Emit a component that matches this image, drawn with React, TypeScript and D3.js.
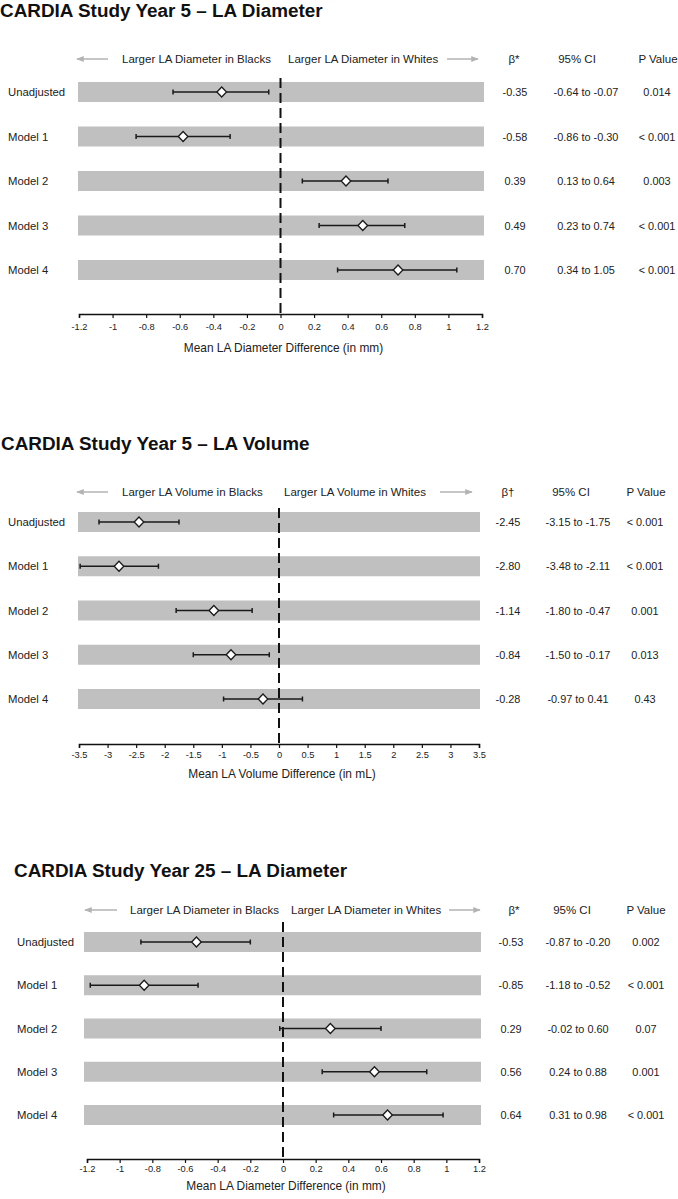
// CARDIA forest plots - three stacked panels
import React, { useEffect, useRef } from 'react';
import * as d3 from 'd3';

const FONT = '"Liberation Sans", Arial, Helvetica, sans-serif';

const models = ['Unadjusted', 'Model 1', 'Model 2', 'Model 3', 'Model 4'];

// Year 5 LA diameter
const diam5Beta = [-0.35, -0.58, 0.39, 0.49, 0.70];
const diam5Lo = [-0.64, -0.86, 0.13, 0.23, 0.34];
const diam5Hi = [-0.07, -0.30, 0.64, 0.74, 1.05];
const diam5P = ['0.014', '< 0.001', '0.003', '< 0.001', '< 0.001'];

// Year 5 LA volume
const vol5Beta = [-2.45, -2.80, -1.14, -0.84, -0.28];
const vol5Lo = [-3.15, -3.48, -1.80, -1.50, -0.97];
const vol5Hi = [-1.75, -2.11, -0.47, -0.17, 0.41];
const vol5P = ['< 0.001', '< 0.001', '0.001', '0.013', '0.43'];

// Year 25 LA diameter
const diam25Beta = [-0.53, -0.85, 0.29, 0.56, 0.64];
const diam25Lo = [-0.87, -1.18, -0.02, 0.24, 0.31];
const diam25Hi = [-0.20, -0.52, 0.60, 0.88, 0.98];
const diam25P = ['0.002', '< 0.001', '0.07', '0.001', '< 0.001'];

const diamTicks = [-1.2, -1, -0.8, -0.6, -0.4, -0.2, 0, 0.2, 0.4, 0.6, 0.8, 1, 1.2];
const volTicks = [-3.5, -3, -2.5, -2, -1.5, -1, -0.5, 0, 0.5, 1, 1.5, 2, 2.5, 3, 3.5];

const panels = [
  {
    title: 'CARDIA Study Year 5 \u2013 LA Diameter',
    leftHdr: 'Larger LA Diameter in Blacks',
    rightHdr: 'Larger LA Diameter in Whites',
    betaHdr: '\u03B2*',
    axisTitle: 'Mean LA Diameter Difference (in mm)',
    beta: diam5Beta, lo: diam5Lo, hi: diam5Hi, p: diam5P,
    domain: [-1.2, 1.2], ticks: diamTicks,
    layout: {
      titleX: 0, titleY: 17, hdrY: 59, rows: [92, 270], xr: [79, 482], bar: [78, 484],
      axisY: 314, dashTop: 78, tickY: 327, axisTitleY: 348, labelX: 8,
      cols: [515, 586, 657], hdrCols: [514, 577, 658],
      lArrow: [108, 77], rArrow: [447, 478], lText: 122, rText: 288,
    },
  },
  {
    title: 'CARDIA Study Year 5 \u2013 LA Volume',
    leftHdr: 'Larger LA Volume in Blacks',
    rightHdr: 'Larger LA Volume in Whites',
    betaHdr: '\u03B2\u2020',
    axisTitle: 'Mean LA Volume Difference (in mL)',
    beta: vol5Beta, lo: vol5Lo, hi: vol5Hi, p: vol5P,
    domain: [-3.5, 3.5], ticks: volTicks,
    layout: {
      titleX: 1, titleY: 450, hdrY: 492, rows: [522, 699], xr: [79, 479], bar: [78, 480],
      axisY: 744, dashTop: 508, tickY: 755, axisTitleY: 774, labelX: 8,
      cols: [508, 578, 645], hdrCols: [508, 571, 646],
      lArrow: [108, 77], rArrow: [440, 472], lText: 122, rText: 284,
    },
  },
  {
    title: 'CARDIA Study Year 25 \u2013 LA Diameter',
    leftHdr: 'Larger LA Diameter in Blacks',
    rightHdr: 'Larger LA Diameter in Whites',
    betaHdr: '\u03B2*',
    axisTitle: 'Mean LA Diameter Difference (in mm)',
    beta: diam25Beta, lo: diam25Lo, hi: diam25Hi, p: diam25P,
    domain: [-1.2, 1.2], ticks: diamTicks,
    layout: {
      titleX: 14, titleY: 877, hdrY: 910, rows: [942, 1115], xr: [87, 479], bar: [84, 481],
      axisY: 1159, dashTop: 922, tickY: 1169, axisTitleY: 1186, labelX: 17,
      cols: [511, 578, 646], hdrCols: [514, 572, 646],
      lArrow: [117, 85], rArrow: [449, 480], lText: 130, rText: 291,
    },
  },
];

const fmtTick = (d: number) => String(+d.toFixed(1));

export default function App() {
  const svgRef = useRef<SVGSVGElement>(null);

  useEffect(() => {
    if (!svgRef.current) return;
    const svg = d3.select(svgRef.current);
    svg.selectAll('*').remove();

    const defs = svg.append('defs');
    defs.append('marker')
      .attr('id', 'ahead')
      .attr('viewBox', '0 0 10 10')
      .attr('refX', 9)
      .attr('refY', 5)
      .attr('markerWidth', 5)
      .attr('markerHeight', 5)
      .attr('orient', 'auto')
      .append('path')
      .attr('d', 'M0,1 L10,5 L0,9 Z')
      .attr('fill', '#b3b3b3');

    panels.forEach(pn => {
      const L = pn.layout;
      const g = svg.append('g').attr('font-family', FONT);

      const x = d3.scaleLinear().domain(pn.domain).range(L.xr);
      const y = d3.scalePoint<string>().domain(models).range(L.rows);

      // title
      g.append('text')
        .attr('x', L.titleX)
        .attr('y', L.titleY)
        .attr('font-size', '18.9px')
        .attr('font-weight', 'bold')
        .attr('fill', '#111')
        .text(pn.title);

      // header arrows + labels
      [L.lArrow, L.rArrow].forEach(a => {
        g.append('line')
          .attr('x1', a[0]).attr('x2', a[1])
          .attr('y1', L.hdrY).attr('y2', L.hdrY)
          .attr('stroke', '#b3b3b3')
          .attr('stroke-width', 1.5)
          .attr('marker-end', 'url(#ahead)');
      });

      const hdr = (tx: number, s: string, anchor = 'start') =>
        g.append('text')
          .attr('x', tx)
          .attr('y', L.hdrY)
          .attr('dominant-baseline', 'central')
          .attr('text-anchor', anchor)
          .attr('font-size', '11.5px')
          .attr('fill', '#222')
          .text(s);

      hdr(L.lText, pn.leftHdr);
      hdr(L.rText, pn.rightHdr);
      hdr(L.hdrCols[0], pn.betaHdr, 'middle');
      hdr(L.hdrCols[1], '95% CI', 'middle');
      hdr(L.hdrCols[2], 'P Value', 'middle');

      // row bands
      g.selectAll('rect.band')
        .data(models)
        .enter()
        .append('rect')
        .attr('x', L.bar[0])
        .attr('width', L.bar[1] - L.bar[0])
        .attr('y', d => (y(d) as number) - 10)
        .attr('height', 20)
        .attr('fill', '#c0c0c0');

      // row labels
      g.selectAll('text.lab')
        .data(models)
        .enter()
        .append('text')
        .attr('x', L.labelX)
        .attr('y', d => y(d) as number)
        .attr('dominant-baseline', 'central')
        .attr('font-size', '11.3px')
        .attr('fill', '#222')
        .text(d => d);

      // zero reference
      g.append('line')
        .attr('x1', x(0)).attr('x2', x(0))
        .attr('y1', L.dashTop).attr('y2', L.axisY)
        .attr('stroke', '#111')
        .attr('stroke-width', 2)
        .attr('stroke-dasharray', '10,5');

      // CI whiskers
      models.forEach((m, i) => {
        const cy = y(m) as number;
        const x0 = x(pn.lo[i]);
        const x1 = x(pn.hi[i]);
        const w = g.append('g').attr('stroke', '#1a1a1a').attr('stroke-width', 1.5);
        w.append('line').attr('x1', x0).attr('x2', x1).attr('y1', cy).attr('y2', cy);
        w.append('line').attr('x1', x0).attr('x2', x0).attr('y1', cy - 2.5).attr('y2', cy + 2.5);
        w.append('line').attr('x1', x1).attr('x2', x1).attr('y1', cy - 2.5).attr('y2', cy + 2.5);

        const cx = x(pn.beta[i]);
        g.append('path')
          .attr('d', `M${cx - 4.8},${cy} L${cx},${cy - 5} L${cx + 4.8},${cy} L${cx},${cy + 5} Z`)
          .attr('fill', '#fff')
          .attr('stroke', '#1a1a1a')
          .attr('stroke-width', 1.3);

        const val = (tx: number, s: string) =>
          g.append('text')
            .attr('x', tx)
            .attr('y', cy)
            .attr('dominant-baseline', 'central')
            .attr('text-anchor', 'middle')
            .attr('font-size', '10.9px')
            .attr('fill', '#222')
            .text(s);
        val(L.cols[0], pn.beta[i].toFixed(2));
        val(L.cols[1], `${pn.lo[i].toFixed(2)} to ${pn.hi[i].toFixed(2)}`);
        val(L.cols[2], pn.p[i]);
      });

      // x axis
      const ax = g.append('g')
        .attr('transform', `translate(0,${L.axisY})`)
        .call(d3.axisBottom(x).tickValues(pn.ticks).tickFormat(d => fmtTick(+d)).tickSize(4).tickSizeOuter(4));
      ax.select('.domain').attr('stroke', '#111').attr('stroke-width', 1.5);
      ax.selectAll('.tick line').attr('stroke', '#111').attr('stroke-width', 1.2);
      ax.selectAll('.tick text')
        .attr('y', 0)
        .attr('dy', null)
        .attr('transform', `translate(0,${L.tickY - L.axisY})`)
        .attr('dominant-baseline', 'central')
        .attr('font-family', FONT)
        .attr('font-size', '9.3px')
        .attr('fill', '#222');

      g.append('text')
        .attr('x', (L.xr[0] + L.xr[1]) / 2 + 3)
        .attr('y', L.axisTitleY)
        .attr('dominant-baseline', 'central')
        .attr('text-anchor', 'middle')
        .attr('font-size', '11.9px')
        .attr('fill', '#222')
        .text(pn.axisTitle);
    });
  }, []);

  return (
    <svg
      ref={svgRef}
      width={678}
      height={1199}
      style={{ position: 'absolute', left: 0, top: 0, background: '#fff' }}
    />
  );
}
